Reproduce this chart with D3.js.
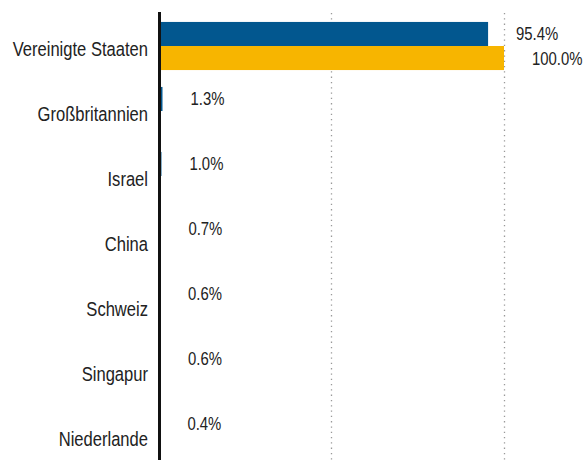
<!DOCTYPE html>
<meta charset="utf-8">
<style>
  body { margin: 0; background: #fff; }
  text { font-family: "Liberation Sans", Arial, sans-serif; fill: #222; }
</style>
<body>
<script src="https://d3js.org/d3.v7.min.js"></script>
<svg></svg>
<script>
    var width = 584;
    var height = 460;

    // data
    var countries = ["Vereinigte Staaten", "Großbritannien", "Israel", "China", "Schweiz", "Singapur", "Niederlande"];
    var seriesBlue = [95.4, 1.3, 1.0, 0.7, 0.6, 0.6, 0.4];
    var seriesYellow = [100.0, null, null, null, null, null, null];
    var gridTicks = [50, 100];

    var colors = ["#02578f", "#f7b500"];

    var svg = d3.select("svg")
        .attr("width", width)
        .attr("height", height);

    var x = d3.scaleLinear()
        .domain([0, 100])
        .range([158, 504]);

    var y = d3.scaleBand()
        .domain(countries)
        .range([13.5, 468.5])
        .paddingInner(0.26)
        .paddingOuter(0.13);

    var inner = d3.scaleBand()
        .domain([0, 1])
        .range([0, y.bandwidth()]);

    // dotted gridlines
    svg.selectAll(".grid")
        .data(gridTicks)
        .enter().append("line")
        .attr("x1", d => x(d) + 0.5)
        .attr("x2", d => x(d) + 0.5)
        .attr("y1", 13)
        .attr("y2", height)
        .attr("stroke", "#999")
        .attr("stroke-width", 1.3)
        .attr("stroke-dasharray", "1.3,4");

    var rows = countries.map(function(c, i) {
        return { name: c, values: [seriesBlue[i], seriesYellow[i]] };
    });

    var group = svg.selectAll(".row")
        .data(rows)
        .enter().append("g")
        .attr("transform", d => "translate(0," + y(d.name) + ")");

    var cells = group.selectAll(".cell")
        .data(d => d.values.map((v, k) => ({ v: v, k: k })).filter(e => e.v != null))
        .enter();

    cells.append("rect")
        .attr("x", x(0))
        .attr("y", d => inner(d.k))
        .attr("width", d => x(d.v) - x(0))
        .attr("height", inner.bandwidth())
        .attr("fill", d => colors[d.k]);

    // condensed look: squeeze the text horizontally
    cells.append("text")
        .attr("transform", d => "translate(" + (x(d.v) + 28) + "," + (inner(d.k) + inner.bandwidth() / 2) + ") scale(0.8,1)")
        .attr("dy", "0.35em")
        .style("font-size", "18.6px")
        .text(d => d.v.toFixed(1) + "%");

    // category labels
    group.append("text")
        .attr("transform", "translate(148," + (y.bandwidth() / 2 + 3) + ") scale(0.85,1)")
        .attr("dy", "0.35em")
        .attr("text-anchor", "end")
        .style("font-size", "19.5px")
        .text(d => d.name);

    // axis line
    svg.append("line")
        .attr("x1", 159.5)
        .attr("x2", 159.5)
        .attr("y1", 12)
        .attr("y2", height)
        .attr("stroke", "#111")
        .attr("stroke-width", 3);
</script>
